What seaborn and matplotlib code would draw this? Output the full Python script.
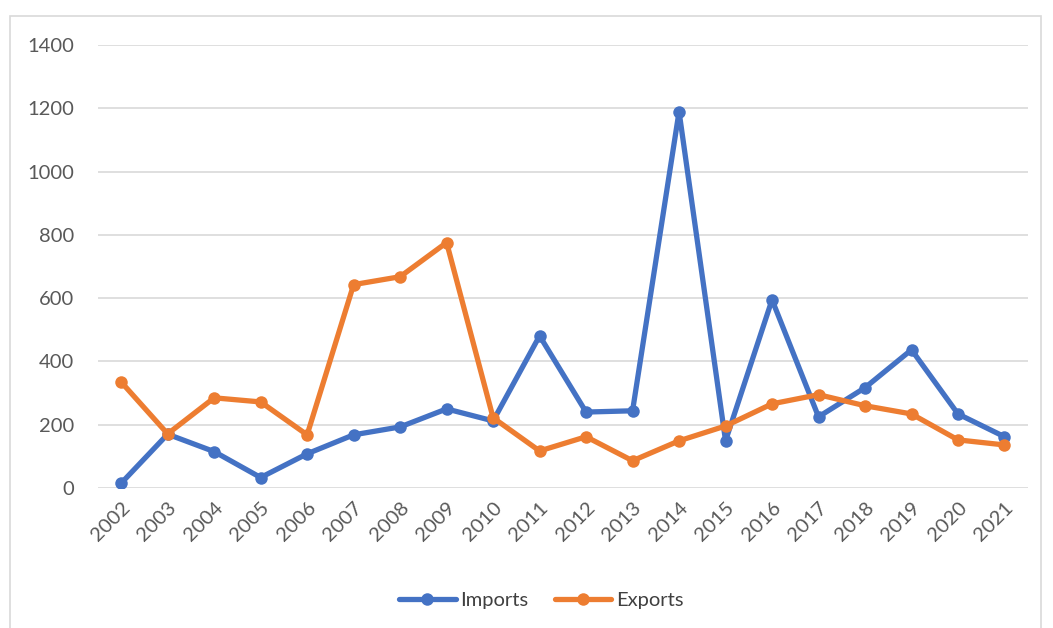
import matplotlib
matplotlib.use("Agg")
import matplotlib.pyplot as plt
import seaborn as sns
import pandas as pd
from matplotlib.patches import Rectangle

years = ["2002", "2003", "2004", "2005", "2006", "2007", "2008", "2009", "2010", "2011",
         "2012", "2013", "2014", "2015", "2016", "2017", "2018", "2019", "2020", "2021"]
imports = [15, 170, 115, 33, 108, 168, 193, 250, 212, 481,
           240, 244, 1190, 149, 595, 225, 317, 437, 234, 162]
exports = [335, 171, 285, 272, 168, 643, 668, 776, 222, 117,
           162, 86, 149, 196, 266, 295, 260, 234, 152, 136]

df = pd.DataFrame({
    "idx": list(range(len(years))) * 2,
    "value": imports + exports,
    "series": ["Imports"] * len(years) + ["Exports"] * len(years),
})

sns.set_style("white")
plt.rcParams["font.family"] = ["Lato", "DejaVu Sans"]

fig = plt.figure(figsize=(10.53, 6.28), dpi=100)
ax = fig.add_axes([0.093, 0.223, 0.883, 0.705])

palette = {"Imports": "#4472C4", "Exports": "#ED7D31"}
sns.lineplot(data=df, x="idx", y="value", hue="series", palette=palette,
             marker="o", markersize=9, markeredgewidth=0, linewidth=3.8,
             ax=ax, legend=True)

ax.set_xlim(-0.5, len(years) - 0.5)
ax.set_ylim(0, 1400)
ax.set_yticks(range(0, 1401, 200))
ax.set_xticks(range(len(years)))
ax.set_xticklabels(years, rotation=45, ha="right", rotation_mode="anchor")
ax.tick_params(axis="both", colors="#595959", labelsize=14.5, length=0)
ax.tick_params(axis="y", pad=17)
ax.tick_params(axis="x", pad=8)
ax.grid(axis="y", color="#D9D9D9", linewidth=1.2)
ax.set_axisbelow(True)
for s in ax.spines.values():
    s.set_visible(False)
ax.set_xlabel("")
ax.set_ylabel("")

handles, labels = ax.get_legend_handles_labels()
leg = ax.legend(handles, labels, loc="center", bbox_to_anchor=(0.477, -0.255),
                ncol=2, frameon=False, fontsize=14.5, handlelength=2.8,
                columnspacing=1.3, handletextpad=0.25)
for t in leg.get_texts():
    t.set_color("#404040")

fig.patches.append(Rectangle((10 / 1053, -0.05), 1031 / 1053, 1 - 16 / 628 + 0.05,
                             transform=fig.transFigure, fill=False,
                             edgecolor="#D9D9D9", linewidth=1.2))

fig.savefig("out.png", dpi=100)
